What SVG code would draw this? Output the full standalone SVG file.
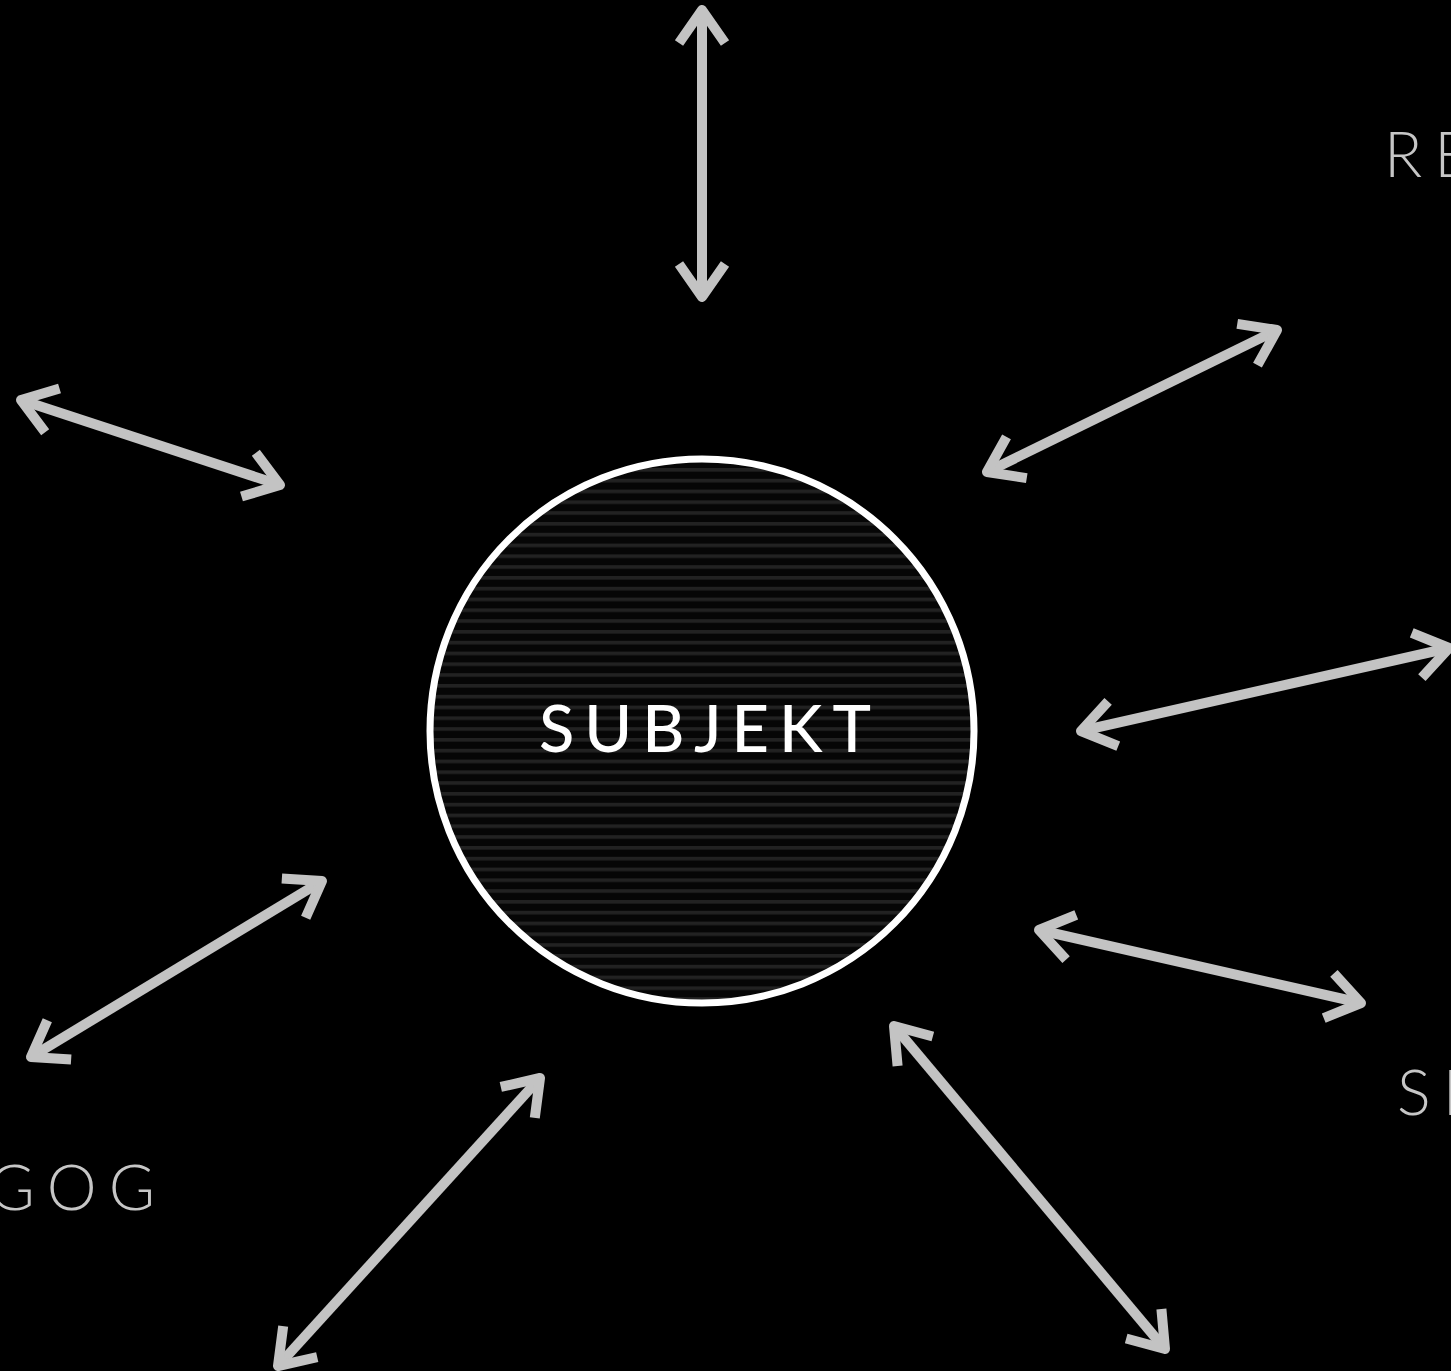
<svg xmlns="http://www.w3.org/2000/svg" width="1451" height="1371" viewBox="0 0 1451 1371">
  <style>
    .arrow { stroke: #c3c3c3; stroke-width: 10; fill: none; marker-start: url(#head); marker-end: url(#head); }
    .label { fill: #c6c6c6; font-family: Lato, "Liberation Sans", sans-serif; font-weight: 300; font-size: 63px; letter-spacing: 12px; }
    .title { fill: #ffffff; font-family: Lato, "Liberation Sans", sans-serif; font-weight: 500; font-size: 65px; letter-spacing: 10px; }
  </style>
  <defs>
    <pattern id="stripes" patternUnits="userSpaceOnUse" x="0" y="468" width="20" height="10.8">
      <rect width="20" height="10.8" fill="#060606"/>
      <rect y="0" width="20" height="3.6" fill="#222222"/>
    </pattern>
    <marker id="head" markerUnits="userSpaceOnUse" viewBox="-50 -40 60 80" markerWidth="60" markerHeight="80" refX="0" refY="0" orient="auto-start-reverse">
      <path d="M -33 -23 L 0 0 L -33 23" fill="none" stroke="#c3c3c3" stroke-width="10" stroke-linejoin="round" stroke-linecap="butt"/>
    </marker>
  </defs>
  <rect width="1451" height="1371" fill="#000000"/>

  <g id="connectors">
    <line class="arrow" x1="702" y1="10" x2="702" y2="297"/>
    <line class="arrow" x1="987" y1="472" x2="1277" y2="330"/>
    <line class="arrow" x1="1081" y1="731" x2="1449" y2="648"/>
    <line class="arrow" x1="1039" y1="930" x2="1361" y2="1003"/>
    <line class="arrow" x1="894" y1="1026" x2="1165" y2="1349"/>
    <line class="arrow" x1="540" y1="1078" x2="278" y2="1366"/>
    <line class="arrow" x1="322" y1="881" x2="31" y2="1057"/>
    <line class="arrow" x1="21" y1="400" x2="280" y2="485"/>
  </g>

  <g id="subjekt">
    <circle cx="702" cy="731" r="272" fill="url(#stripes)" stroke="#ffffff" stroke-width="7"/>
    <text class="title" x="710" y="752" text-anchor="middle">SUBJEKT</text>
  </g>

  <g id="label-re">
    <text class="label" x="1384" y="177">RE</text>
  </g>
  <g id="label-si">
    <text class="label" x="1397" y="1115">SI</text>
  </g>
  <g id="label-gog">
    <text class="label" x="167" y="1210" text-anchor="end">GOG</text>
  </g>
</svg>
